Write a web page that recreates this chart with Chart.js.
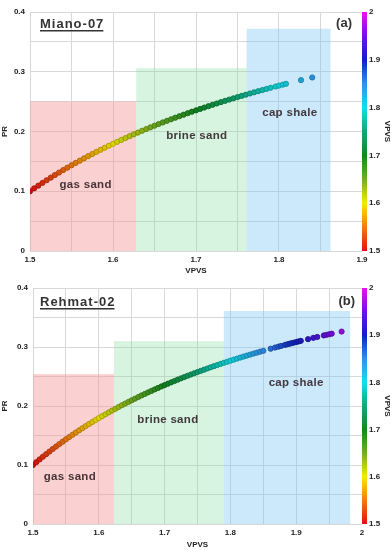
<!DOCTYPE html>
<html>
<head>
<meta charset="utf-8">
<script src="https://cdn.jsdelivr.net/npm/chart.js@4"></script>
<style>
  body { margin: 0; background: #fff; }
  canvas { position: absolute; left: 0; }
  #top { top: 0; }
  #bottom { top: 276px; }
</style>
</head>
<body>
<canvas id="top" width="392" height="276"></canvas>
<canvas id="bottom" width="392" height="274"></canvas>
<script>
// Miano-07 well: VPVS vs Poisson ratio
const mianoVpvs = [
  1.500, 1.505, 1.510, 1.515, 1.520, 1.525, 1.530, 1.535, 1.540, 1.545,
  1.550, 1.555, 1.560, 1.565, 1.570, 1.575, 1.580, 1.585, 1.590, 1.595,
  1.600, 1.605, 1.610, 1.615, 1.620, 1.625, 1.630, 1.635, 1.640, 1.645,
  1.650, 1.655, 1.660, 1.665, 1.670, 1.675, 1.680, 1.685, 1.690, 1.695,
  1.700, 1.705, 1.710, 1.715, 1.720, 1.725, 1.730, 1.735, 1.740, 1.745,
  1.750, 1.755, 1.760, 1.765, 1.770, 1.775, 1.780, 1.785, 1.790,
  1.796, 1.800, 1.8045, 1.8084, 1.8265, 1.840
];
const mianoPr = [
  0.1000, 0.1048, 0.1094, 0.1140, 0.1184, 0.1228, 0.1271, 0.1313, 0.1355, 0.1395,
  0.1435, 0.1474, 0.1512, 0.1550, 0.1587, 0.1623, 0.1659, 0.1694, 0.1728, 0.1762,
  0.1795, 0.1827, 0.1859, 0.1891, 0.1922, 0.1952, 0.1982, 0.2012, 0.2041, 0.2069,
  0.2097, 0.2125, 0.2152, 0.2179, 0.2205, 0.2231, 0.2256, 0.2281, 0.2306, 0.2331,
  0.2354, 0.2378, 0.2401, 0.2424, 0.2447, 0.2469, 0.2491, 0.2513, 0.2534, 0.2555,
  0.2576, 0.2596, 0.2616, 0.2636, 0.2656, 0.2675, 0.2694, 0.2713, 0.2732,
  0.2753, 0.2768, 0.2784, 0.2798, 0.2860, 0.2904
];

// Rehmat-02 well
const rehmatVpvs = [
  1.500, 1.505, 1.510, 1.515, 1.520, 1.525, 1.530, 1.535, 1.540, 1.545,
  1.550, 1.555, 1.560, 1.565, 1.570, 1.575, 1.580, 1.585, 1.590, 1.595,
  1.600, 1.605, 1.610, 1.615, 1.620, 1.625, 1.630, 1.635, 1.640, 1.645,
  1.650, 1.655, 1.660, 1.665, 1.670, 1.675, 1.680, 1.685, 1.690, 1.695,
  1.700, 1.705, 1.710, 1.715, 1.720, 1.725, 1.730, 1.735, 1.740, 1.745,
  1.750, 1.755, 1.760, 1.765, 1.770, 1.775, 1.780, 1.785, 1.790, 1.795,
  1.800, 1.805, 1.810, 1.815, 1.820, 1.825, 1.830, 1.835, 1.840, 1.845, 1.850,
  1.8612, 1.8678, 1.8728, 1.877, 1.883, 1.8865, 1.8896, 1.893, 1.8967, 1.9007,
  1.904, 1.907, 1.918, 1.926, 1.932, 1.942, 1.946, 1.950, 1.954, 1.969
];
const rehmatPr = [
  0.1000, 0.1048, 0.1094, 0.1140, 0.1184, 0.1228, 0.1271, 0.1313, 0.1355, 0.1395,
  0.1435, 0.1474, 0.1512, 0.1550, 0.1587, 0.1623, 0.1659, 0.1694, 0.1728, 0.1762,
  0.1795, 0.1827, 0.1859, 0.1891, 0.1922, 0.1952, 0.1982, 0.2012, 0.2041, 0.2069,
  0.2097, 0.2125, 0.2152, 0.2179, 0.2205, 0.2231, 0.2256, 0.2281, 0.2306, 0.2331,
  0.2354, 0.2378, 0.2401, 0.2424, 0.2447, 0.2469, 0.2491, 0.2513, 0.2534, 0.2555,
  0.2576, 0.2596, 0.2616, 0.2636, 0.2656, 0.2675, 0.2694, 0.2713, 0.2732, 0.2750,
  0.2768, 0.2786, 0.2803, 0.2821, 0.2838, 0.2855, 0.2871, 0.2888, 0.2904, 0.2920, 0.2936,
  0.2971, 0.2991, 0.3006, 0.3018, 0.3036, 0.3046, 0.3055, 0.3065, 0.3075, 0.3086,
  0.3095, 0.3104, 0.3133, 0.3155, 0.3170, 0.3196, 0.3206, 0.3216, 0.3226, 0.3262
];

// facies zones (VPVS range, PR top)
const zoneNames = ["gas sand", "brine sand", "cap shale"];
const mianoZoneFrom = [1.5, 1.628, 1.761];
const mianoZoneTo = [1.628, 1.761, 1.862];
const mianoZoneTop = [0.25, 0.306, 0.372];
const mianoLabelX = [1.567, 1.701, 1.813];
const mianoLabelY = [0.110, 0.192, 0.232];
const rehmatZoneFrom = [1.5, 1.623, 1.79];
const rehmatZoneTo = [1.623, 1.79, 1.982];
const rehmatZoneTop = [0.254, 0.31, 0.361];
const rehmatLabelX = [1.556, 1.705, 1.9];
const rehmatLabelY = [0.080, 0.176, 0.239];

const zoneColors = [
  "rgba(246,150,150,0.45)",
  "rgba(120,220,150,0.30)",
  "rgba(120,195,245,0.38)",
];
const FONT = "'Liberation Sans', Arial, sans-serif";

// colour scale for VPVS (1.5 - 2.0)
const cmap = [
  [1.5, [228, 16, 16]],
  [1.55, [245, 122, 16]],
  [1.6, [245, 235, 0]],
  [1.65, [112, 176, 32]],
  [1.7, [16, 138, 32]],
  [1.75, [16, 168, 120]],
  [1.8, [16, 224, 232]],
  [1.85, [48, 144, 240]],
  [1.9, [16, 32, 200]],
  [1.95, [112, 16, 232]],
  [2.0, [240, 16, 240]],
];

function rgbFor(v) {
  if (v <= cmap[0][0]) return cmap[0][1];
  for (let i = 1; i < cmap.length; i++) {
    if (v <= cmap[i][0]) {
      const t = (v - cmap[i - 1][0]) / (cmap[i][0] - cmap[i - 1][0]);
      const a = cmap[i - 1][1], b = cmap[i][1];
      return a.map((q, k) => Math.round(q + (b[k] - q) * t));
    }
  }
  return cmap[cmap.length - 1][1];
}

function colorFor(v, k) {
  const c = rgbFor(v).map((q) => Math.round(q * (k || 1)));
  return "rgb(" + c.join(",") + ")";
}

function tenthLabel(value) {
  const r = Math.round(value * 10);
  if (Math.abs(value * 10 - r) > 1e-6) return "";
  return String(+(r / 10).toFixed(1));
}

const zonePlugin = {
  id: "zones",
  beforeDatasetsDraw(chart, args, opts) {
    const { ctx, chartArea: a, scales } = chart;
    ctx.save();
    ctx.beginPath();
    ctx.rect(a.left, a.top, a.width, a.height);
    ctx.clip();
    opts.from.forEach((f, i) => {
      const x0 = scales.x.getPixelForValue(f);
      const x1 = scales.x.getPixelForValue(opts.to[i]);
      const y0 = scales.y.getPixelForValue(opts.top[i]);
      const y1 = scales.y.getPixelForValue(0);
      ctx.fillStyle = zoneColors[i];
      ctx.fillRect(x0, y0, x1 - x0, y1 - y0);
    });
    ctx.restore();
  },
  afterDatasetsDraw(chart, args, opts) {
    const { ctx, chartArea: a, scales } = chart;
    ctx.save();
    ctx.font = "bold 11.5px " + FONT;
    ctx.letterSpacing = "0.3px";
    ctx.fillStyle = "rgba(55,40,45,0.92)";
    ctx.textAlign = "center";
    ctx.textBaseline = "middle";
    zoneNames.forEach((n, i) => {
      ctx.fillText(n, scales.x.getPixelForValue(opts.labelX[i]), scales.y.getPixelForValue(opts.labelY[i]));
    });
    // well name, underlined
    ctx.font = "bold 13px " + FONT;
    ctx.letterSpacing = "1px";
    ctx.fillStyle = "#333";
    ctx.textAlign = "left";
    ctx.textBaseline = "alphabetic";
    const tx = a.left + opts.dx, ty = a.top + opts.dy;
    ctx.fillText(opts.well, tx, ty);
    const w = ctx.measureText(opts.well).width;
    ctx.fillRect(tx, ty + 2, w - 1, 1.5);
    ctx.letterSpacing = "0px";
    ctx.textAlign = "right";
    ctx.fillText(opts.tag, a.right - opts.tagDx, ty - 1);
    ctx.restore();
  },
  afterDraw(chart) {
    const { ctx, chartArea: a } = chart;
    const g = ctx.createLinearGradient(0, a.bottom, 0, a.top);
    cmap.forEach((s) => g.addColorStop((s[0] - 1.5) / 0.5, "rgb(" + s[1].join(",") + ")"));
    ctx.save();
    ctx.fillStyle = g;
    ctx.fillRect(a.right, a.top, 5, a.bottom - a.top);
    ctx.restore();
  },
};

function makeChart(id, vpvs, pr, xMax, leftW, bottomH, zone) {
  const pts = vpvs.map((v, i) => ({ x: v, y: pr[i] }));
  const tickFont = { family: FONT, size: 8, weight: "bold" };
  return new Chart(document.getElementById(id), {
    type: "scatter",
    data: {
      datasets: [
        {
          data: pts,
          pointRadius: 2.6,
          pointBorderWidth: 0.9,
          pointBackgroundColor: (c) => colorFor(c.raw ? c.raw.x : 1.5, 0.9),
          pointBorderColor: (c) => colorFor(c.raw ? c.raw.x : 1.5, 0.7),
        },
      ],
    },
    options: {
      responsive: false,
      devicePixelRatio: 1,
      animation: false,
      layout: { padding: { top: 12, left: 0, right: 0, bottom: 0 } },
      plugins: { legend: { display: false }, tooltip: { enabled: false }, zones: zone },
      scales: {
        x: {
          type: "linear",
          min: 1.5,
          max: xMax,
          grid: { color: "#d8d8d8", drawTicks: false },
          border: { display: false },
          ticks: { stepSize: 0.05, padding: 4, autoSkip: false, maxRotation: 0, color: "#222", font: tickFont, callback: tenthLabel },
          title: { display: true, text: "VPVS", color: "#222", font: tickFont, padding: 0 },
          afterFit: (s) => { s.height = bottomH; },
        },
        y: {
          min: 0,
          max: 0.4,
          grid: { color: "#d8d8d8", drawTicks: false },
          border: { display: false },
          ticks: { stepSize: 0.05, padding: 5, autoSkip: false, color: "#222", font: tickFont, callback: tenthLabel },
          title: { display: true, text: "PR", color: "#222", font: tickFont, padding: 0 },
          afterFit: (s) => { s.width = leftW; },
        },
        y2: {
          position: "right",
          min: 1.5,
          max: 2.0,
          grid: { display: false, drawTicks: false },
          border: { display: false },
          ticks: { stepSize: 0.1, padding: 7, color: "#222", font: tickFont, callback: tenthLabel },
          title: { display: true, text: "VPVS", color: "#222", font: tickFont, padding: 0 },
          afterFit: (s) => { s.width = 30; },
        },
      },
    },
    plugins: [zonePlugin],
  });
}

window.onload = function () {
  makeChart("top", mianoVpvs, mianoPr, 1.9, 30, 25, {
    from: mianoZoneFrom, to: mianoZoneTo, top: mianoZoneTop,
    labelX: mianoLabelX, labelY: mianoLabelY,
    well: "Miano-07", tag: "(a)", dx: 10, dy: 16, tagDx: 10,
  });
  makeChart("bottom", rehmatVpvs, rehmatPr, 2.0, 33, 26, {
    from: rehmatZoneFrom, to: rehmatZoneTo, top: rehmatZoneTop,
    labelX: rehmatLabelX, labelY: rehmatLabelY,
    well: "Rehmat-02", tag: "(b)", dx: 7, dy: 18, tagDx: 7,
  });
};
</script>
</body>
</html>
